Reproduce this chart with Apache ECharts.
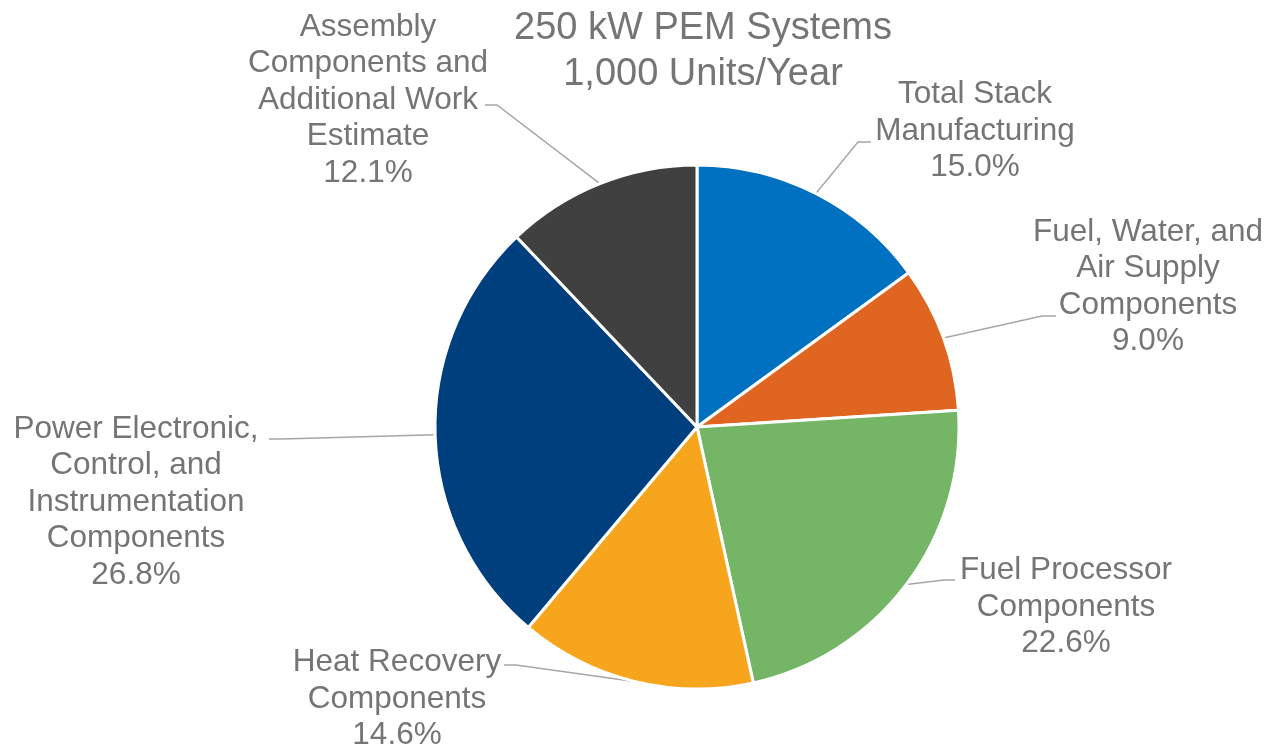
<!DOCTYPE html>
<html>
<head>
<meta charset="utf-8">
<script src="https://cdn.jsdelivr.net/npm/echarts@6/dist/echarts.min.js"></script>
<style>html,body{margin:0;padding:0;background:#fff}#c{width:1270px;height:751px}</style>
</head>
<body>
<div id="c"></div>
<script>
var categories = [
  "Total Stack\nManufacturing",
  "Fuel, Water, and\nAir Supply\nComponents",
  "Fuel Processor\nComponents",
  "Heat Recovery\nComponents",
  "Power Electronic,\nControl, and\nInstrumentation\nComponents",
  "Assembly\nComponents and\nAdditional Work\nEstimate"
];
var values = [15.0, 9.0, 22.6, 14.6, 26.8, 12.1];
var colors = ["#0070C0", "#E06520", "#74B566", "#F7A51C", "#003F7D", "#404040"];
var titleText = "250 kW PEM Systems\n1,000 Units/Year";
// layout only: label anchor centres and leader-line bend/end points
var labelPos = [[975,131],[1148,287],[1066,607],[397,699],[136,502],[368,100]];
var leaderEnds = [
  [[858,142],[871,142]],
  [[1042,316],[1056,316]],
  [[944,580],[955,580]],
  [[516,665],[504,665]],
  [[282,439],[269,439]],
  [[497,105],[485,105]]
];

var chart = echarts.init(document.getElementById('c'));
var data = categories.map(function(c,i){return {name:c, value:values[i], itemStyle:{color:colors[i]}};});
chart.setOption({
  animation:false,
  title:{text:titleText, left:698, top:1, textAlign:'center',
    textStyle:{fontFamily:'Liberation Sans', fontSize:38, lineHeight:46, fontWeight:'normal', color:'#757575'}},
  series:[{
    type:'pie', center:[697,427], radius:262, startAngle:90, clockwise:true,
    itemStyle:{borderColor:'#fff', borderWidth:3},
    label:{show:true, position:'outside', formatter:function(p){return p.name+'\n'+p.value.toFixed(1)+'%';},
      fontFamily:'Liberation Sans', fontSize:31.5, lineHeight:36.5, color:'#757575', align:'center'},
    labelLine:{show:true, length:20, length2:20, lineStyle:{color:'#a6a6a6', width:1.5}},
    labelLayout:function(p){
      var i = p.dataIndex;
      var pos = labelPos[i];
      var res = {x:pos[0], y:pos[1], align:'center', verticalAlign:'middle'};
      if (p.labelLinePoints && p.labelLinePoints[0]) {
        res.labelLinePoints = [p.labelLinePoints[0].slice(), leaderEnds[i][0], leaderEnds[i][1]];
      }
      return res;
    },
    data:data
  }]
});
</script>
</body>
</html>
